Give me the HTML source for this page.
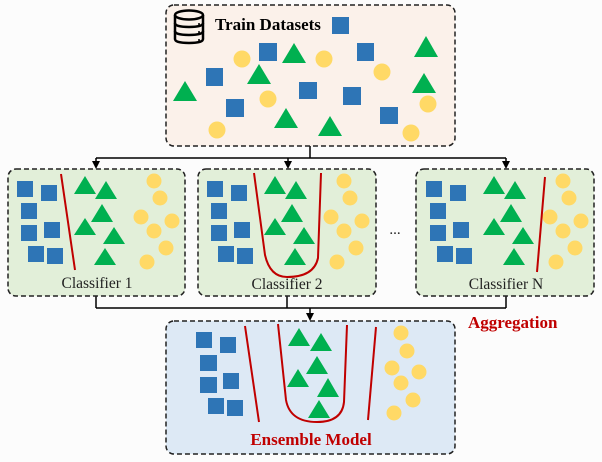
<!DOCTYPE html>
<html><head><meta charset="utf-8"><style>
html,body{margin:0;padding:0;background:#fcfcfc;}
svg{display:block;}
text{font-family:"Liberation Serif",serif;}
</style></head><body>
<svg width="602" height="462" viewBox="0 0 602 462" xmlns="http://www.w3.org/2000/svg">
<!-- connectors -->
<g stroke="#000" stroke-width="1.5" fill="none">
<line x1="310" y1="146" x2="310" y2="158"/>
<line x1="96" y1="158" x2="506" y2="158"/>
<line x1="96" y1="158" x2="96" y2="162"/>
<line x1="288" y1="158" x2="288" y2="162"/>
<line x1="506" y1="158" x2="506" y2="162"/>
<line x1="96" y1="296" x2="96" y2="308"/>
<line x1="287" y1="296" x2="287" y2="308"/>
<line x1="506" y1="296" x2="506" y2="308"/>
<line x1="96" y1="308" x2="506" y2="308"/>
<line x1="310" y1="308" x2="310" y2="314"/>
</g>
<g fill="#000">
<polygon points="92,161 100,161 96,169"/>
<polygon points="284,161 292,161 288,169"/>
<polygon points="502,161 510,161 506,169"/>
<polygon points="306,313 314,313 310,321"/>
</g>
<!-- boxes -->
<g stroke="#222" stroke-width="1.5" stroke-dasharray="5,3">
<rect x="166" y="5" width="289" height="141" rx="8" fill="#fbf1ea"/>
<rect x="8" y="169" width="177" height="127" rx="8" fill="#e2efd9"/>
<rect x="198" y="169" width="178" height="127" rx="8" fill="#e2efd9"/>
<rect x="416" y="169" width="178" height="127" rx="8" fill="#e2efd9"/>
<rect x="166" y="321" width="289" height="133" rx="8" fill="#dde9f5"/>
</g>
<!-- db icon -->
<g stroke="#000" stroke-width="2.5" fill="none">
<ellipse cx="189" cy="15" rx="14" ry="4.5"/>
<path d="M175,15 V39 Q175,43 189,43 Q203,43 203,39 V15"/>
<path d="M175,23 Q175,27 189,27 Q203,27 203,23"/>
<path d="M175,31 Q175,35 189,35 Q203,35 203,31"/>
</g>
<g fill="#000"><circle cx="199" cy="24" r="1"/><circle cx="199" cy="32" r="1"/><circle cx="199" cy="40" r="1"/></g>
<text x="215" y="30" font-size="17" font-weight="bold">Train Datasets</text>
<!-- top shapes -->
<g fill="#2e75b6">
<rect x="332" y="17" width="17" height="17"/><rect x="259" y="43" width="18" height="18"/>
<rect x="206" y="68" width="17" height="18"/><rect x="357" y="43" width="17" height="18"/>
<rect x="299" y="82" width="18" height="17"/><rect x="343" y="87" width="18" height="18"/>
<rect x="226" y="99" width="18" height="18"/><rect x="380" y="107" width="18" height="17"/>
</g>
<g fill="#ffd966">
<circle cx="242" cy="59" r="8.5"/><circle cx="324" cy="59" r="8.5"/><circle cx="382" cy="72" r="8.5"/>
<circle cx="268" cy="99" r="8.5"/><circle cx="428" cy="104" r="8.5"/><circle cx="217" cy="130" r="8.5"/><circle cx="411" cy="133" r="8.5"/>
</g>
<g fill="#00b050">
<polygon points="294,43 282,63 306,63"/><polygon points="259,64 247,84 271,84"/>
<polygon points="185,81 173,101 197,101"/><polygon points="426,36 414,57 438,57"/>
<polygon points="424,73 412,93 436,93"/><polygon points="286,108 274,128 298,128"/>
<polygon points="330,116 318,136 342,136"/>
</g>
<!-- classifier template shapes -->
<g id="c1">
<g fill="#2e75b6">
<rect x="17" y="181" width="16" height="16"/><rect x="41" y="185" width="16" height="16"/>
<rect x="21" y="203" width="16" height="16"/><rect x="21" y="225" width="16" height="16"/>
<rect x="44" y="222" width="16" height="16"/><rect x="28" y="246" width="16" height="16"/>
<rect x="47" y="248" width="16" height="16"/>
</g>
<g fill="#00b050">
<polygon points="85,176 74,194 96,194"/><polygon points="106,181 95,199 117,199"/>
<polygon points="102,204 91,222 113,222"/><polygon points="85,218 74,235 96,235"/>
<polygon points="114,227 103,244 125,244"/><polygon points="105,248 94,265 116,265"/>
</g>
<g fill="#ffd966">
<circle cx="154" cy="181" r="7.5"/><circle cx="160" cy="198" r="7.5"/><circle cx="141" cy="217" r="7.5"/>
<circle cx="172" cy="221" r="7.5"/><circle cx="154" cy="231" r="7.5"/><circle cx="166" cy="248" r="7.5"/><circle cx="147" cy="262" r="7.5"/>
</g>
</g>
<use href="#c1" x="190" y="0"/>
<use href="#c1" x="409" y="0"/>
<g stroke="#c00000" stroke-width="2" fill="none">
<line x1="61" y1="174" x2="75" y2="270"/>
<path d="M254,173 L265,255 Q270,277 287,277 Q314,277 318,258 L321,173"/>
<line x1="545" y1="177" x2="537" y2="272"/>
</g>
<text x="97" y="288" font-size="15.5" text-anchor="middle" fill="#222">Classifier 1</text>
<text x="287" y="289" font-size="15.5" text-anchor="middle" fill="#222">Classifier 2</text>
<text x="506" y="289" font-size="15.5" text-anchor="middle" fill="#222">Classifier N</text>
<text x="395" y="234" font-size="15" text-anchor="middle" fill="#222">...</text>
<text x="468" y="328" font-size="17" font-weight="bold" fill="#c00000">Aggregation</text>
<!-- ensemble -->
<g fill="#2e75b6">
<rect x="196" y="332" width="16" height="16"/><rect x="220" y="337" width="16" height="16"/>
<rect x="200" y="355" width="17" height="16"/><rect x="200" y="377" width="17" height="16"/>
<rect x="223" y="373" width="16" height="16"/><rect x="208" y="398" width="16" height="16"/>
<rect x="227" y="400" width="16" height="16"/>
</g>
<g fill="#00b050">
<polygon points="299,328 288,346 310,346"/><polygon points="321,333 310,351 332,351"/>
<polygon points="317,356 306,374 328,374"/><polygon points="298,369 287,387 309,387"/>
<polygon points="328,378 317,397 339,397"/><polygon points="319,400 308,418 330,418"/>
</g>
<g fill="#ffd966">
<circle cx="401" cy="333" r="7.5"/><circle cx="407" cy="351" r="7.5"/><circle cx="392" cy="368" r="7.5"/>
<circle cx="419" cy="372" r="7.5"/><circle cx="401" cy="383" r="7.5"/><circle cx="413" cy="400" r="7.5"/><circle cx="394" cy="413" r="7.5"/>
</g>
<g stroke="#c00000" stroke-width="2" fill="none">
<line x1="245" y1="326" x2="259" y2="422"/>
<line x1="376" y1="327" x2="368" y2="420"/>
<path d="M278,324 L286,400 Q290,422 317,422 Q342,422 344,402 L347,325"/>
</g>
<text x="311" y="445" font-size="17" font-weight="bold" text-anchor="middle" fill="#c00000">Ensemble Model</text>
</svg>
</body></html>
